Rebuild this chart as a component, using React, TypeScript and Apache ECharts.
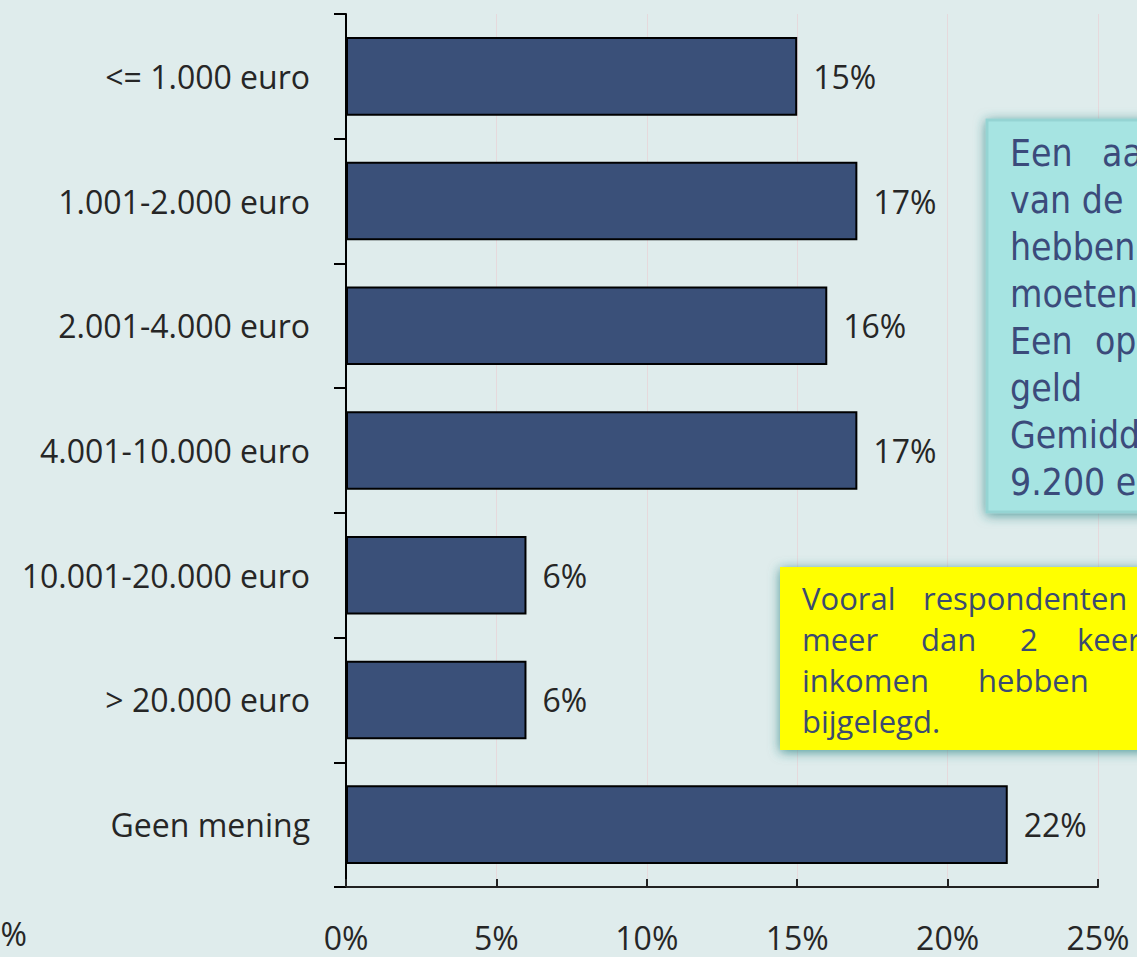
import React, { useEffect, useRef } from "react";
import * as echarts from "echarts";

const categories = [
  "<= 1.000 euro",
  "1.001-2.000 euro",
  "2.001-4.000 euro",
  "4.001-10.000 euro",
  "10.001-20.000 euro",
  "> 20.000 euro",
  "Geen mening",
];
const values = [15, 17, 16, 17, 6, 6, 22];
const xTicks = { min: 0, max: 25, interval: 5 };

const cyanLines: { words: string[]; xs: number[] }[] = [
  { words: ["Een", "aa"], xs: [1010, 1102] },
  { words: ["van de"], xs: [1010] },
  { words: ["hebben"], xs: [1010] },
  { words: ["moeten"], xs: [1010] },
  { words: ["Een", "op"], xs: [1010, 1095] },
  { words: ["geld"], xs: [1010] },
  { words: ["Gemidd"], xs: [1010] },
  { words: ["9.200 e"], xs: [1010] },
];
const yellowLines: { words: string[]; xs: number[] }[] = [
  { words: ["Vooral", "respondenten"], xs: [802, 923] },
  { words: ["meer", "dan", "2", "keer"], xs: [802, 921, 1020, 1077] },
  { words: ["inkomen", "hebben"], xs: [802, 978] },
  { words: ["bijgelegd."], xs: [802] },
];

const FONT = "'Open Sans', 'Noto Sans', sans-serif";

export default function App() {
  const ref = useRef<HTMLDivElement>(null);
  useEffect(() => {
    document.body.style.margin = "0";
    if (!ref.current) return;
    const chart = echarts.init(ref.current, undefined, { renderer: "svg" });

    const graphics: any[] = [];
    graphics.push({
      type: "rect",
      shape: { x: 987, y: 120, width: 220, height: 392 },
      style: {
        fill: "#a6e4e2",
        stroke: "#95d4d3",
        lineWidth: 3,
        shadowBlur: 12,
        shadowColor: "rgba(40,130,130,0.75)",
        shadowOffsetX: 0,
        shadowOffsetY: 2,
      },
      z: 10,
    });
    cyanLines.forEach((ln, i) => {
      ln.words.forEach((w, j) => {
        graphics.push({
          type: "text",
          x: ln.xs[j],
          y: 153 + i * 47.1,
          style: {
            text: w,
            fill: "#3b4b7b",
            font: "37px 'DejaVu Sans Condensed', 'DejaVu Sans', sans-serif",
            textAlign: "left",
            textVerticalAlign: "middle",
          },
          z: 11,
        });
      });
    });
    graphics.push({
      type: "rect",
      shape: { x: 780, y: 567, width: 420, height: 183 },
      style: {
        fill: "#ffff00",
        shadowBlur: 12,
        shadowColor: "rgba(40,130,130,0.8)",
        shadowOffsetX: 0,
        shadowOffsetY: 2,
      },
      z: 10,
    });
    yellowLines.forEach((ln, i) => {
      ln.words.forEach((w, j) => {
        graphics.push({
          type: "text",
          x: ln.xs[j],
          y: 598 + i * 41,
          style: {
            text: w,
            fill: "#3b4b70",
            font: `31px ${FONT}`,
            textAlign: "left",
            textVerticalAlign: "middle",
          },
          z: 11,
        });
      });
    });
    graphics.push({
      type: "text",
      x: 27,
      y: 933,
      style: {
        text: "0%",
        fill: "#262626",
        font: `32px ${FONT}`,
        textAlign: "right",
        textVerticalAlign: "middle",
      },
    });

    chart.setOption({
      animation: false,
      backgroundColor: "#dfecec",
      grid: { left: 346, right: 39, top: 14, bottom: 70, containLabel: false },
      xAxis: {
        type: "value",
        min: xTicks.min,
        max: xTicks.max,
        interval: xTicks.interval,
        axisLine: { show: true, lineStyle: { color: "#222", width: 2 } },
        axisTick: { show: true, inside: true, length: 8, lineStyle: { color: "#222", width: 2 } },
        axisLabel: {
          formatter: "{value}%",
          fontFamily: FONT,
          fontSize: 32,
          color: "#262626",
          margin: 34,
        },
        splitLine: { show: true, lineStyle: { color: "#e6d9dc", width: 1 } },
      },
      yAxis: {
        type: "category",
        inverse: true,
        data: categories,
        axisLine: { show: true, lineStyle: { color: "#000", width: 2 } },
        axisTick: { show: true, inside: false, length: 12, alignWithLabel: false, lineStyle: { color: "#000", width: 2 } },
        axisLabel: {
          fontFamily: FONT,
          fontSize: 32,
          color: "#262626",
          margin: 36,
        },
      },
      series: [
        {
          type: "bar",
          data: values,
          barCategoryGap: "37%",
          itemStyle: { color: "#3a5079", borderColor: "#000", borderWidth: 2 },
          label: {
            show: true,
            position: "right",
            distance: 16,
            formatter: "{c}%",
            fontFamily: FONT,
            fontSize: 32,
            color: "#262626",
          },
        },
      ],
      graphic: graphics,
    });
    return () => chart.dispose();
  }, []);
  return <div ref={ref} style={{ width: 1137, height: 957 }} />;
}
